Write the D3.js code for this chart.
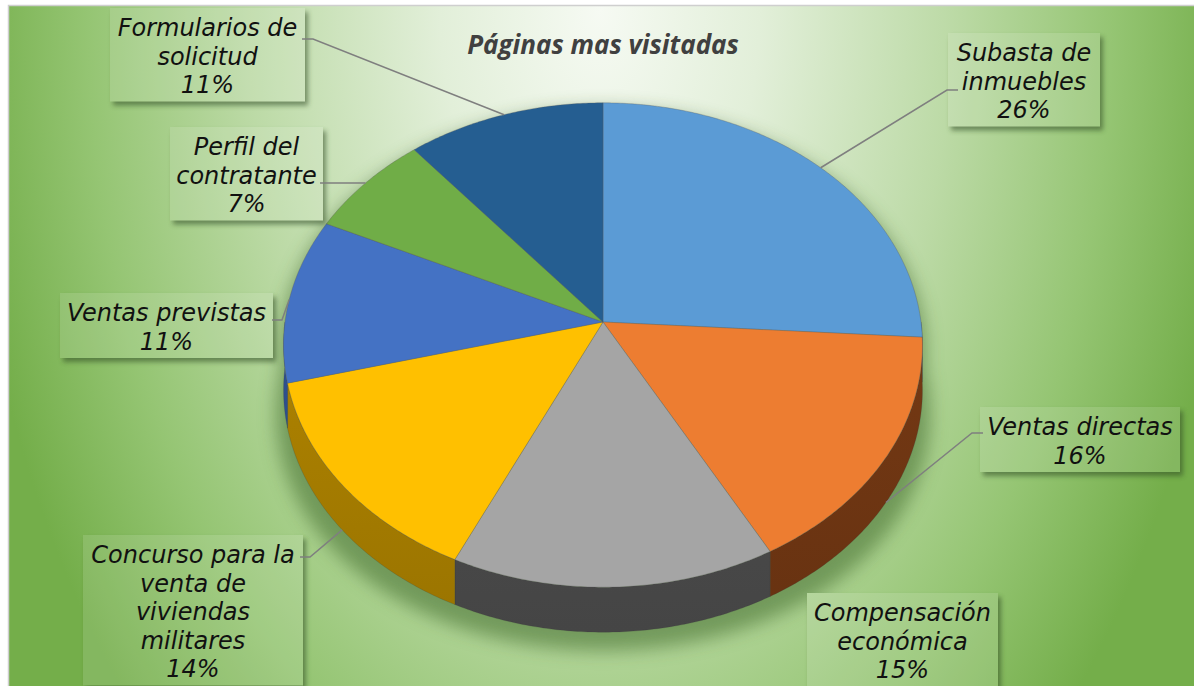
<!DOCTYPE html>
<html>
<head>
<meta charset="utf-8">
<script src="https://cdn.jsdelivr.net/npm/d3@7/dist/d3.min.js"></script>
<style>
  html, body { margin: 0; padding: 0; background: #ffffff; }
  svg { display: block; }
</style>
</head>
<body>
<svg id="chart" width="1194" height="686"></svg>
<script>
// ---------- data ----------
const title = "Páginas mas visitadas";
const categories = [
  "Subasta de inmuebles",
  "Ventas directas",
  "Compensación económica",
  "Concurso para la venta de viviendas militares",
  "Ventas previstas",
  "Perfil del contratante",
  "Formularios de solicitud"
];
const values = [26, 16, 15, 14, 11, 7, 11];
const labelLines = [
  ["Subasta de", "inmuebles"],
  ["Ventas directas"],
  ["Compensación", "económica"],
  ["Concurso para la", "venta de", "viviendas", "militares"],
  ["Ventas previstas"],
  ["Perfil del", "contratante"],
  ["Formularios de", "solicitud"]
];
const topColors  = ["#5B9BD5", "#ED7D31", "#A5A5A5", "#FFC000", "#4472C4", "#70AD47", "#255E91"];
const sideColors = ["#2f5f8f", "#6b3412", "#474747", "#a07800", "#2b4a85", "#456c2c", "#163a5a"];

// ---------- layout ----------
const W = 1194, H = 686;
const cx = 603, cy = 322, Rx = 318, Ry = 240, K = 0.095, depth = 45;
const boxes = [
  {x: 948, y: 33,  w: 152, leader: [[958, 90], [947, 90]]},
  {x: 980, y: 407, w: 200, leader: [[983, 433], [972, 433]]},
  {x: 807, y: 593, w: 191, leader: null},
  {x: 83,  y: 535, w: 220, leader: [[300, 557], [310, 557]]},
  {x: 60,  y: 293, w: 213, leader: [[272, 320], [282, 320]]},
  {x: 170, y: 127, w: 153, leader: [[320, 183], [322, 183]]},
  {x: 110, y: 8,   w: 195, leader: [[302, 39], [313, 39]]}
];
const lineH = 28.5;

const svg = d3.select("#chart");
const defs = svg.append("defs");

// background gradient
const bg = defs.append("radialGradient").attr("id", "bg")
  .attr("gradientUnits", "userSpaceOnUse")
  .attr("cx", 600).attr("cy", 10).attr("r", 640)
  .attr("gradientTransform", "translate(600,10) scale(1,1.6) translate(-600,-10)");
[[0, "#f6faf3"], [0.25, "#e2efd9"], [0.55, "#bcdaa6"], [0.8, "#95c573"], [1, "#74ae4a"]]
  .forEach(([o, c]) => bg.append("stop").attr("offset", o).attr("stop-color", c));

const blur8 = defs.append("filter").attr("id", "blurShadow")
  .attr("x", "-30%").attr("y", "-30%").attr("width", "160%").attr("height", "160%");
blur8.append("feGaussianBlur").attr("stdDeviation", 9);
const blur3 = defs.append("filter").attr("id", "boxShadow")
  .attr("x", "-20%").attr("y", "-20%").attr("width", "140%").attr("height", "140%");
blur3.append("feGaussianBlur").attr("stdDeviation", 2.5);

// chart area with border
svg.append("rect").attr("x", 8.5).attr("y", 5.5).attr("width", W).attr("height", H)
  .attr("fill", "url(#bg)").attr("stroke", "#cfcfcf").attr("stroke-width", 1.5);

// ---------- projection ----------
function proj(theta, r = 1) {
  const u = r * Math.sin(theta), v = -r * Math.cos(theta);
  const w = 1 - K * v;
  return [cx + Rx * u / w, cy + Ry * v / w, v];
}
function arcPoints(a0, a1) {
  const n = Math.max(2, Math.ceil((a1 - a0) / 0.01));
  return d3.range(n + 1).map(i => proj(a0 + (a1 - a0) * i / n));
}
const line = d3.line().x(d => d[0]).y(d => d[1]);

const pie = d3.pie().sort(null).value(d => d)(values);

// pie shadow (perspective-like: spreads downward)
const sh = svg.append("g").attr("filter", "url(#blurShadow)").attr("opacity", 0.55);
const full = arcPoints(0, 2 * Math.PI);
const spread = full.map(p => {
  const t = Math.max(0, (p[1] - cy + 120) / (Ry + 120));
  return [cx + (p[0] - cx) * (1 + 0.06 * t), p[1] + depth + 10 + 8 * t];
});
sh.append("path").attr("d", line(full.map(p => [cx + (p[0] - cx) * 1.01, p[1] + 6])) + "Z").attr("fill", "#3f6a2a");
sh.append("path").attr("d", line(spread) + "Z").attr("fill", "#3f6a2a");

// sides
const sideG = svg.append("g");
pie.forEach((s, i) => {
  const a0 = Math.max(s.startAngle, Math.PI / 2), a1 = Math.min(s.endAngle, 3 * Math.PI / 2);
  if (a1 <= a0) return;
  const top = arcPoints(a0, a1);
  const bot = top.map(p => [p[0], p[1] + depth]).reverse();
  const gid = "side" + i;
  const g = defs.append("linearGradient").attr("id", gid)
    .attr("gradientUnits", "userSpaceOnUse").attr("x1", 0).attr("y1", cy).attr("x2", 0).attr("y2", cy + Ry * 1.1 + depth);
  const c = d3.color(sideColors[i]);
  g.append("stop").attr("offset", 0).attr("stop-color", c.brighter(0.25));
  g.append("stop").attr("offset", 1).attr("stop-color", c.darker(0.1));
  sideG.append("path").attr("d", line(top.concat(bot)) + "Z")
    .attr("fill", `url(#${gid})`).attr("stroke", "rgba(60,60,60,0.35)").attr("stroke-width", 0.6);
});

// top faces
const topG = svg.append("g");
pie.forEach((s, i) => {
  const pts = [[cx, cy]].concat(arcPoints(s.startAngle, s.endAngle));
  topG.append("path").attr("d", line(pts) + "Z")
    .attr("fill", topColors[i]).attr("stroke", "rgba(90,90,90,0.45)").attr("stroke-width", 0.7)
    .attr("stroke-linejoin", "round");
});

// title
svg.append("text").attr("x", cx).attr("y", 54).attr("text-anchor", "middle")
  .attr("font-family", "'Open Sans', Lato, sans-serif").attr("font-weight", "bold").attr("font-style", "italic")
  .attr("font-size", 26).attr("fill", "#404040").text(title);

// labels
const labG = svg.append("g");
pie.forEach((s, i) => {
  const b = boxes[i];
  const lines = labelLines[i].concat([values[i] + "%"]);
  const h = lines.length * lineH + 8;
  labG.append("rect").attr("x", b.x + 3).attr("y", b.y + 4).attr("width", b.w).attr("height", h)
    .attr("fill", "#2f4a22").attr("opacity", 0.55).attr("filter", "url(#boxShadow)");
  labG.append("rect").attr("x", b.x).attr("y", b.y).attr("width", b.w).attr("height", h).attr("fill", "url(#bg)");
  labG.append("rect").attr("x", b.x).attr("y", b.y).attr("width", b.w).attr("height", h)
    .attr("fill", "#ffffff").attr("opacity", 0.12);
  const t = labG.append("text").attr("text-anchor", "middle")
    .attr("font-family", "'DejaVu Sans', Verdana, sans-serif").attr("font-style", "italic")
    .attr("font-size", 24).attr("fill", "#111111");
  lines.forEach((ln, j) => {
    t.append("tspan").attr("x", b.x + b.w / 2).attr("y", b.y + 28 + j * lineH).text(ln);
  });
});

// leader lines
pie.forEach((s, i) => {
  const b = boxes[i];
  if (!b.leader) return;
  const mid = (s.startAngle + s.endAngle) / 2;
  const p = proj(mid);
  const anchor = [p[0], p[1] + (p[2] > 0 ? depth : 0)];
  svg.append("path").attr("d", line([b.leader[0], b.leader[1], anchor]))
    .attr("fill", "none").attr("stroke", "#7f7f7f").attr("stroke-width", 1.5);
});
</script>
</body>
</html>
